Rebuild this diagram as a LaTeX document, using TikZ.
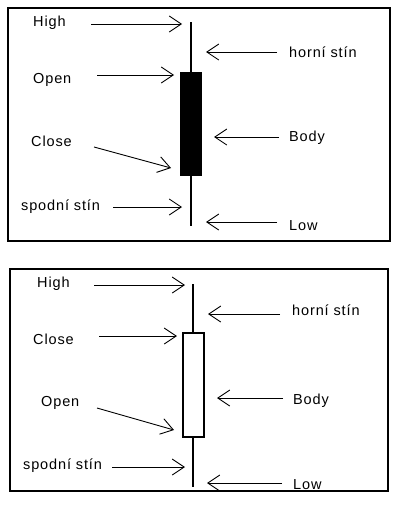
\documentclass[tikz,border=0pt]{standalone}
\usepackage{fontspec}
\setmainfont{Liberation Sans}[LetterSpace=6]
\usetikzlibrary{arrows.meta}
\begin{document}
\begin{tikzpicture}[x=1pt,y=-1pt,
  lbl/.style={font=\fontsize{14.5}{16}\selectfont, inner sep=0pt, anchor=west},
  arr/.style={line width=0.9pt, -{Straight Barb[length=12pt,width=16pt,line width=0.9pt]}},
  frame/.style={line width=1.4pt},
  wick/.style={line width=1.6pt}]
\useasboundingbox (0,0) rectangle (400,506);
% ---------- panel 1 ----------
\draw[frame] (8,8) rectangle (390,241);
\draw[wick] (191,22) -- (191,226);
\node[draw, line width=1pt, fill=black, minimum width=21pt, minimum height=103pt, inner sep=0pt] (b1) at (191,123.5) {};
\node[lbl] (h1) at (33,23) {High};
\node[lbl] (o1) at (33,80) {Open};
\node[lbl] (c1) at (31,141) {Close};
\node[lbl] (s1) at (21,207) {spodní stín};
\node[lbl] (hs1) at (289,52) {horní stín};
\node[lbl] (bd1) at (289,138) {Body};
\node[lbl] (l1) at (289,226) {Low};
\coordinate (h1e) at (182,24);
\coordinate (o1e) at (174,75);
\coordinate (c1e) at (171,168);
\coordinate (s1e) at (182,207);
\coordinate (hs1e) at (206,52);
\coordinate (bd1e) at (214,137);
\coordinate (l1e) at (206,222);
\draw[arr] (91,24) -- (h1e);
\draw[arr] (97,75) -- (o1e);
\draw[arr] (94,147) -- (c1e);
\draw[arr] (113,207) -- (s1e);
\draw[arr] (277,52) -- (hs1e);
\draw[arr] (279,137) -- (bd1e);
\draw[arr] (277,222) -- (l1e);
% ---------- panel 2 ----------
\draw[frame] (10,269) rectangle (388,491);
\draw[wick] (193,284) -- (193,487);
\node[draw, line width=1.2pt, fill=white, minimum width=21pt, minimum height=104pt, inner sep=0pt] (b2) at (193.5,385) {};
\node[lbl] (h2) at (37,284) {High};
\node[lbl] (c2) at (33,339) {Close};
\node[lbl] (o2) at (41,403) {Open};
\node[lbl] (s2) at (23,466) {spodní stín};
\node[lbl] (hs2) at (292,310) {horní stín};
\node[lbl] (bd2) at (293,401) {Body};
\node[lbl] (l2) at (293,485) {Low};
\coordinate (h2e) at (185,285);
\coordinate (c2e) at (177,336);
\coordinate (o2e) at (174,430);
\coordinate (s2e) at (185,467);
\coordinate (hs2e) at (208,314);
\coordinate (bd2e) at (217,398);
\coordinate (l2e) at (207,483);
\draw[arr] (94,285) -- (h2e);
\draw[arr] (99,336) -- (c2e);
\draw[arr] (97,408) -- (o2e);
\draw[arr] (112,467) -- (s2e);
\draw[arr] (280,314) -- (hs2e);
\draw[arr] (283,398) -- (bd2e);
\draw[arr] (282,483) -- (l2e);
\end{tikzpicture}
\end{document}
